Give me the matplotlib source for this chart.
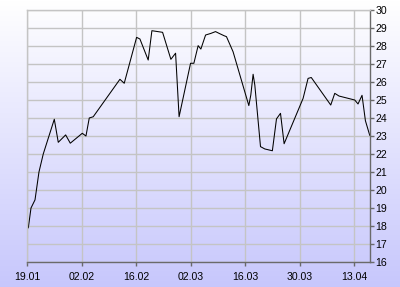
import numpy as np
import matplotlib
matplotlib.use("Agg")
import matplotlib.pyplot as plt

# Day offsets from 19.01 and prices
days = [0.26, 0.95, 1.98, 3.0, 4.1, 6.94, 7.96, 9.86, 11.05, 14.13, 15.08, 15.93,
        16.95, 23.81, 24.92, 28.1, 28.95, 31.08, 32.03, 34.78, 36.91, 38.12, 39.02,
        41.97, 42.82, 43.92, 44.62, 45.83, 47.19, 48.39, 49.32, 50.6, 51.2, 52.9,
        56.95, 57.46, 58.05, 58.49, 59.95, 61.06, 63.0, 64.06, 65.09, 66.02, 70.9,
        72.18, 73.0, 78.01, 79.04, 80.14, 84.17, 85.02, 86.05, 86.92, 88.03]
values = [17.9, 19.0, 19.45, 21.0, 22.0, 23.93, 22.65, 23.06, 22.6, 23.15, 23.0, 24.0,
          24.07, 26.15, 25.93, 28.48, 28.39, 27.22, 28.85, 28.76, 27.26, 27.6, 24.07,
          27.04, 27.04, 28.02, 27.83, 28.61, 28.7, 28.8, 28.7, 28.57, 28.52, 27.68,
          24.69, 25.28, 26.43, 25.83, 22.41, 22.28, 22.18, 23.95, 24.26, 22.57, 25.09,
          26.2, 26.25, 24.72, 25.37, 25.22, 25.0, 24.78, 25.26, 23.85, 23.04]

x_ticks = [0, 14, 28, 42, 56, 70, 84]
x_labels = ["19.01", "02.02", "16.02", "02.03", "16.03", "30.03", "13.04"]
y_ticks = list(range(16, 31))

plt.rcParams['font.family'] = ['Liberation Sans', 'DejaVu Sans']

fig = plt.figure(figsize=(4.0, 2.87), dpi=100)

# background gradient
bg = fig.add_axes([0, 0, 1, 1], zorder=0)
grad = np.linspace(0, 1, 256).reshape(-1, 1)
top = np.array([1.0, 1.0, 1.0])
bot = np.array([0.78, 0.78, 0.99])
img = top[None, None, :] * (1 - grad[..., None]) + bot[None, None, :] * grad[..., None]
bg.imshow(img, aspect='auto', extent=[0, 1, 0, 1])
bg.set_axis_off()

ax = fig.add_axes([27.3 / 400, 25 / 287, (370 - 27.3) / 400, 252 / 287], zorder=1)
ax.patch.set_alpha(0)
ax.plot(days, values, color='black', linewidth=0.75, antialiased=True)

ax.set_xlim(0, 88.1)
ax.set_ylim(16, 30)
ax.set_xticks(x_ticks)
ax.set_xticklabels(x_labels)
ax.set_yticks(y_ticks)
ax.set_yticklabels([str(v) for v in y_ticks])
ax.yaxis.tick_right()

ax.grid(True, color='#c4c4c4', linewidth=1.0)
ax.set_axisbelow(True)

for s in ['top', 'left']:
    ax.spines[s].set_color('#c4c4c4')
    ax.spines[s].set_linewidth(1.0)
for s in ['bottom', 'right']:
    ax.spines[s].set_color('#6a6a6a')
    ax.spines[s].set_linewidth(1.0)

ax.tick_params(axis='x', direction='out', length=3, width=1, color='#6a6a6a',
               labelsize=7.6, pad=4, labelcolor='black')
ax.tick_params(axis='y', direction='out', length=3, width=1, color='#6a6a6a',
               labelsize=7.6, pad=1, labelcolor='black')

fig.savefig('out.png', dpi=100)
